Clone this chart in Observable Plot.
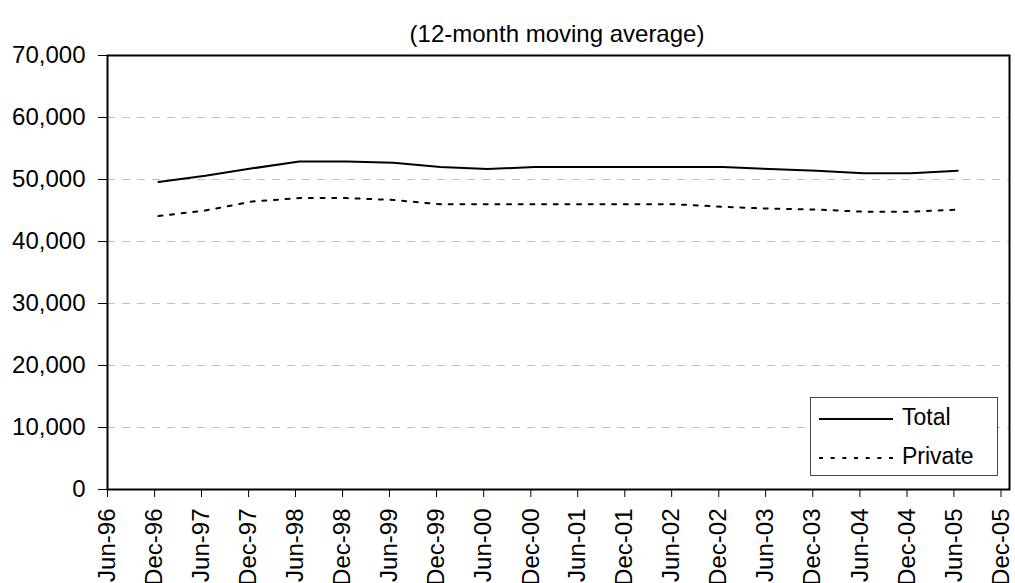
<!DOCTYPE html>
<html><head><meta charset="utf-8">
<script src="https://cdn.jsdelivr.net/npm/d3@7"></script>
<script src="https://cdn.jsdelivr.net/npm/@observablehq/plot@0.6"></script>
<style>
body{margin:0;background:#fff;font-family:"Liberation Sans",Arial,Helvetica,sans-serif;}
#wrap{position:relative;width:1015px;height:583px;overflow:hidden;background:#fff;}
#title{height:50px;box-sizing:border-box;padding-top:22px;padding-left:99px;text-align:center;font-size:24px;line-height:24px;color:#000;white-space:nowrap;}
#legend{position:absolute;left:810px;top:397px;width:188px;height:79px;box-sizing:border-box;border:1px solid #444;background:#fff;}
#legend svg{display:block;font-family:"Liberation Sans",Arial,Helvetica,sans-serif;}
</style></head><body>
<div id="wrap">
  <div id="title">(12-month moving average)</div>
  <div id="chart"></div>
  <div id="legend"></div>
</div>
<script>
// Half-yearly readings (12-month moving average)
const periods = ["Dec-96","Jun-97","Dec-97","Jun-98","Dec-98","Jun-99","Dec-99","Jun-00","Dec-00",
                 "Jun-01","Dec-01","Jun-02","Dec-02","Jun-03","Dec-03","Jun-04","Dec-04","Jun-05"];
const totalValues = [49600, 50600, 51800, 52900, 52900, 52700, 52000, 51700, 52000,
                     52000, 52000, 52000, 52000, 51700, 51400, 51000, 51000, 51400];
const privateValues = [44100, 45000, 46450, 47000, 47000, 46700, 46000, 46000, 46000,
                       46000, 46000, 46000, 45600, 45300, 45150, 44800, 44800, 45150];
const seriesNames = ["Total", "Private"];
const yTicks = [0, 10000, 20000, 30000, 40000, 50000, 60000, 70000];
const xTickLabels = ["Jun-96","Dec-96","Jun-97","Dec-97","Jun-98","Dec-98","Jun-99","Dec-99","Jun-00","Dec-00",
                     "Jun-01","Dec-01","Jun-02","Dec-02","Jun-03","Dec-03","Jun-04","Dec-04","Jun-05","Dec-05"];

const parse = d3.utcParse("%b-%y");
const fmt = d3.utcFormat("%b-%y");
const mid = p => d3.utcDay.offset(parse(p), 15);
const totalData = periods.map((p, i) => ({date: mid(p), value: totalValues[i]}));
const privateData = periods.map((p, i) => ({date: mid(p), value: privateValues[i]}));
const xTicks = xTickLabels.map(parse);
const gridValues = yTicks.filter(v => v > 0 && v < d3.max(yTicks));
const fontFamily = '"Liberation Sans", Arial, Helvetica, sans-serif';
const dash = "4,7.67";

const chart = Plot.plot({
  width: 1015,
  height: 533,
  marginTop: 5,
  marginBottom: 94,
  marginLeft: 107,
  marginRight: 6,
  style: {fontFamily, fontSize: "24px", color: "#000", background: "#fff", overflow: "visible"},
  x: {type: "utc", domain: [parse(xTickLabels[0]), d3.utcDay.offset(parse(xTickLabels[xTickLabels.length - 1]), 33)]},
  y: {domain: [0, d3.max(yTicks)]},
  marks: [
    Plot.ruleY(gridValues, {stroke: "#c0c0c0", strokeWidth: 1, strokeDasharray: "8,7"}),
    Plot.line(totalData, {x: "date", y: "value", stroke: "#000", strokeWidth: 2}),
    Plot.line(privateData, {x: "date", y: "value", stroke: "#000", strokeWidth: 2, strokeDasharray: dash}),
    Plot.axisY({ticks: yTicks, tickFormat: d3.format(","), tickSize: 9, tickPadding: 13, label: null, fontSize: 24}),
    Plot.axisX({ticks: xTicks, tickFormat: fmt, tickRotate: -90, tickSize: 8, tickPadding: 11, label: null, fontSize: 24}),
    Plot.frame({stroke: "#000", strokeWidth: 2})
  ]
});
document.getElementById("chart").appendChild(chart);

// Legend (inside plot area, bottom-right)
const lg = d3.select("#legend").append("svg").attr("width", 186).attr("height", 77);
const rows = [{name: seriesNames[0], dash: null, ly: 21, ty: 27}, {name: seriesNames[1], dash: dash, ly: 60, ty: 66}];
rows.forEach(r => {
  const l = lg.append("line").attr("x1", 8).attr("x2", 82).attr("y1", r.ly).attr("y2", r.ly)
    .attr("stroke", "#000").attr("stroke-width", 2);
  if (r.dash) l.attr("stroke-dasharray", r.dash);
  lg.append("text").attr("x", 91).attr("y", r.ty).attr("font-size", 23).attr("fill", "#000").text(r.name);
});
</script>
</body></html>
